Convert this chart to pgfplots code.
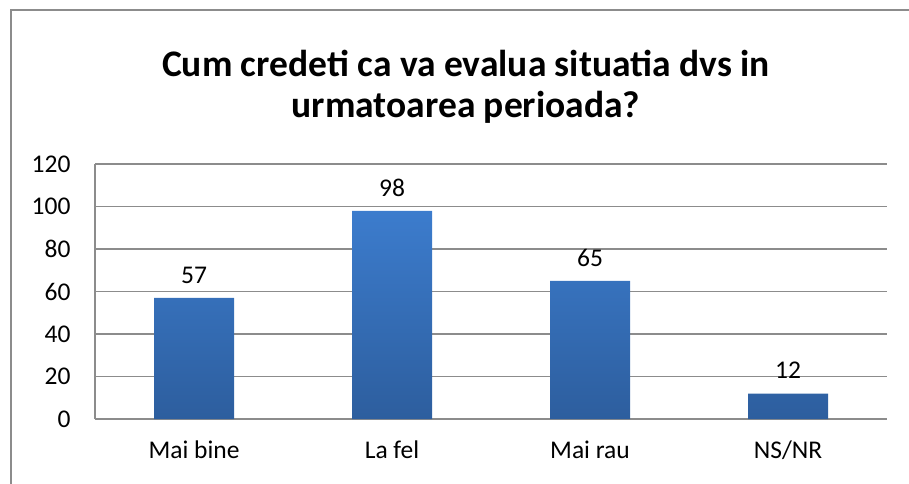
\documentclass[border=0pt]{standalone}
\usepackage{fontspec}
\setmainfont{Carlito}
\usepackage{pgfplots}
\pgfplotsset{compat=1.18}
\definecolor{gridgray}{RGB}{140,140,140}
\definecolor{bartop}{RGB}{60,124,205}
\definecolor{barbot}{RGB}{45,94,158}
\begin{document}
\begin{tikzpicture}[x=1pt,y=1pt]
\useasboundingbox (0,0) rectangle (909,483);
\begin{scope}
\clip (0,0) rectangle (909,483);
\draw[gridgray, line width=2pt] (11,-20) -- (11,473) -- (930,473);
\end{scope}
\node[font=\fontsize{37.5}{41}\selectfont\bfseries, align=center] at (466,396) {Cum credeti ca va evalua situatia dvs in\\urmatoarea perioada?};
\begin{axis}[
  at={(95pt,64pt)}, anchor=south west,
  scale only axis, width=792pt, height=255pt,
  xmin=-0.5, xmax=3.5, ymin=0, ymax=120,
  ytick={0,20,...,120},
  xtick={0,1,2,3},
  xticklabels={Mai bine, La fel, Mai rau, NS/NR},
  axis x line*=bottom, axis y line*=left,
  axis line style={gridgray, line width=1.5pt, -},
  ymajorgrids, grid style={gridgray, line width=1.5pt},
  major tick length=0pt,
  tick label style={font=\fontsize{25.5}{28}\selectfont},
  /pgf/number format/assume math mode=true,
  yticklabel style={xshift=-21pt},
  xticklabel style={yshift=-18pt},
  ybar, bar width=80pt,
  nodes near coords,
  every node near coord/.append style={font=\fontsize{25.5}{28}\selectfont, yshift=11pt},
  clip=false,
]
\addplot[draw=none, top color=bartop, bottom color=barbot] coordinates {(0,57) (1,98) (2,65) (3,12)};
\end{axis}
\end{tikzpicture}
\end{document}
